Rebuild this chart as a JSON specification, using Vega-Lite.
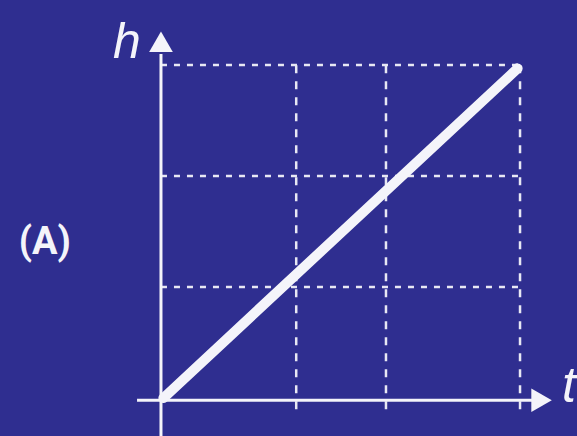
{
  "$schema": "https://vega.github.io/schema/vega-lite/v6.json",
  "width": 577,
  "height": 436,
  "padding": 0,
  "autosize": {"type": "none"},
  "background": "#2f2e90",
  "config": {"view": {"stroke": null}},
  "datasets": {
    "hgrid": [{"h": 1, "t0": 0, "t1": 3}, {"h": 2, "t0": 0, "t1": 3}, {"h": 3, "t0": 0, "t1": 3}],
    "vgrid": [{"t": 1.13, "h0": -0.1, "h1": 3}, {"t": 1.88, "h0": -0.1, "h1": 3}, {"t": 3, "h0": -0.1, "h1": 3}],
    "axes": [
      {"name": "h-axis", "t0": 0, "t1": 0, "h0": -0.4, "h1": 3.1},
      {"name": "t-axis", "t0": -0.2, "t1": 3.1, "h0": -0.02, "h1": -0.02}
    ],
    "arrows": [
      {"name": "h", "t": 0, "h": 3.21, "shape": "triangle-up"},
      {"name": "t", "t": 3.18, "h": -0.02, "shape": "triangle-right"}
    ],
    "line": [{"t": 0.02, "h": 0}, {"t": 2.98, "h": 2.97}],
    "italicLabels": [
      {"text": "h", "t": -0.40, "h": 3.063},
      {"text": "t", "t": 3.35, "h": -0.036}
    ],
    "panelLabel": [{"text": "(A)", "t": -0.97, "h": 1.3}]
  },
  "layer": [
    {
      "data": {"name": "hgrid"},
      "mark": {"type": "rule", "color": "#e8e8f4", "strokeWidth": 2.5, "strokeDash": [6, 7]},
      "encoding": {
        "x": {"field": "t0", "type": "quantitative", "scale": {"domain": [-1.345, 3.476], "nice": false, "zero": false}, "axis": null},
        "x2": {"field": "t1"},
        "y": {"field": "h", "type": "quantitative", "scale": {"domain": [-0.342, 3.586], "nice": false, "zero": false}, "axis": null}
      }
    },
    {
      "data": {"name": "vgrid"},
      "mark": {"type": "rule", "color": "#e8e8f4", "strokeWidth": 2.5, "strokeDash": [8, 8]},
      "encoding": {
        "x": {"field": "t", "type": "quantitative"},
        "y": {"field": "h0", "type": "quantitative"},
        "y2": {"field": "h1"}
      }
    },
    {
      "data": {"name": "axes"},
      "mark": {"type": "rule", "color": "#f4f4fa", "strokeWidth": 3},
      "encoding": {
        "x": {"field": "t0", "type": "quantitative"},
        "x2": {"field": "t1"},
        "y": {"field": "h0", "type": "quantitative"},
        "y2": {"field": "h1"}
      }
    },
    {
      "data": {"name": "arrows"},
      "mark": {"type": "point", "filled": true, "color": "#f4f4fa", "opacity": 1, "size": 560},
      "encoding": {
        "x": {"field": "t", "type": "quantitative"},
        "y": {"field": "h", "type": "quantitative"},
        "shape": {"field": "shape", "type": "nominal", "scale": null, "legend": null}
      }
    },
    {
      "data": {"name": "line"},
      "mark": {"type": "line", "color": "#f4f4fa", "strokeWidth": 10, "strokeCap": "round"},
      "encoding": {
        "x": {"field": "t", "type": "quantitative"},
        "y": {"field": "h", "type": "quantitative"}
      }
    },
    {
      "data": {"name": "italicLabels"},
      "mark": {"type": "text", "color": "#f4f4fa", "font": "Liberation Sans", "fontStyle": "italic", "fontSize": 50, "align": "left", "baseline": "alphabetic"},
      "encoding": {
        "x": {"field": "t", "type": "quantitative"},
        "y": {"field": "h", "type": "quantitative"},
        "text": {"field": "text"}
      }
    },
    {
      "data": {"name": "panelLabel"},
      "mark": {"type": "text", "color": "#f4f4fa", "font": "Roboto", "fontWeight": "bold", "fontSize": 38, "align": "center", "baseline": "alphabetic"},
      "encoding": {
        "x": {"field": "t", "type": "quantitative"},
        "y": {"field": "h", "type": "quantitative"},
        "text": {"field": "text"}
      }
    }
  ]
}
